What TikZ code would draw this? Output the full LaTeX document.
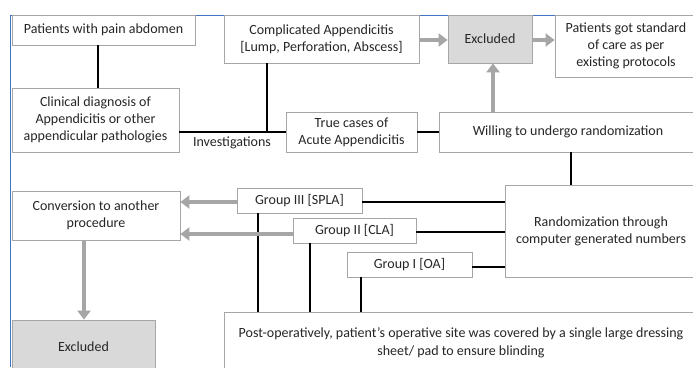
\documentclass[tikz,border=0pt]{standalone}
\usepackage{fontspec}
\setmainfont{Carlito}
\usetikzlibrary{arrows.meta}
\definecolor{boxline}{HTML}{A6A6A6}
\definecolor{arrgray}{HTML}{A6A6A6}
\definecolor{exfill}{HTML}{D9D9D9}
\definecolor{frameblue}{HTML}{4472C4}
\definecolor{txt}{HTML}{262626}
\begin{document}
\begin{tikzpicture}[x=1pt,y=-1pt,
  box/.style={draw=boxline,line width=0.8pt,fill=white,inner sep=1pt,align=center,text=txt,font=\fontsize{14}{17}\selectfont},
  conn/.style={line width=2.5pt,black},
  garr/.style={line width=4pt,arrgray,-{Triangle[length=9pt,width=13pt]}},
  lbl/.style={text=txt,font=\fontsize{14}{17.5}\selectfont}]
\useasboundingbox (0,0) rectangle (693,367);
\clip (0,0) rectangle (693,367);
\fill[white] (0,0) rectangle (693,367);
\draw[frameblue,line width=1pt] (10,367) -- (10,15) -- (693,15);
% boxes
\node[box,minimum width=183pt,minimum height=30pt] (pain) at (103.5,30) {Patients with pain abdomen};
\node[box,minimum width=167pt,minimum height=64pt] (clin) at (95.5,120) {Clinical diagnosis of\\Appendicitis or other\\appendicular pathologies};
\node[box,minimum width=195pt,minimum height=48pt] (comp) at (321.5,39) {Complicated Appendicitis\\{[}Lump, Perforation, Abscess{]}};
\node[box,fill=exfill,minimum width=84pt,minimum height=48pt] (ex1) at (490,39) {Excluded};
\node[box,minimum width=142pt,minimum height=62pt] (std) at (626,46) {Patients got standard\\of care as per\\existing protocols};
\node[box,minimum width=131pt,minimum height=40pt] (true) at (351.5,132) {True cases of\\Acute Appendicitis};
\node[box,minimum width=258pt,minimum height=40pt] (will) at (568,132) {Willing to undergo randomization};
\node[box,minimum width=192pt,minimum height=92pt] (rand) at (601,231) {Randomization through\\computer generated numbers};
\node[box,minimum width=125pt,minimum height=25pt] (g3) at (299.5,200.5) {Group III [SPLA]};
\node[box,minimum width=123pt,minimum height=25pt] (g2) at (354.5,230.5) {Group II [CLA]};
\node[box,minimum width=125pt,minimum height=25pt] (g1) at (409.5,264.5) {Group I [OA]};
\node[box,minimum width=168pt,minimum height=49pt] (conv) at (96,215.5) {Conversion to another\\procedure};
\node[box,fill=exfill,minimum width=143pt,minimum height=60pt] (ex2) at (83.5,350) {};
\node[lbl] (ex2t) at (83.5,347) {Excluded};
\node[box,minimum width=474pt,minimum height=80pt] (post) at (461,352) {};
\node[lbl,align=center] (postt) at (461,343) {Post-operatively, patient’s operative site was covered by a single large dressing\\sheet/ pad to ensure blinding};
% black connectors
\draw[conn] (pain.south -| 98,0) -- (clin.north -| 98,0);
\draw[conn] (true.west) -- (true.west -| clin.east);
\coordinate (j1) at (267,132);
\draw[conn] (comp.south -| j1) -- (j1);
\node[lbl,anchor=center] (inv) at (232,143) {Investigations};
\draw[conn] (true.east) -- (true.east -| will.west);
\coordinate (j2) at (571,0);
\draw[conn] (will.south -| j2) -- (rand.north -| j2);
\draw[conn] (g3.east |- 0,202) -- (rand.west |- 0,202);
\draw[conn] (g2.east |- 0,232) -- (rand.west |- 0,232);
\draw[conn] (g1.east |- 0,267) -- (rand.west |- 0,267);
\coordinate (j3) at (258,0);
\coordinate (j4) at (310,0);
\coordinate (j5) at (361,0);
\draw[conn] (g3.south -| j3) -- (post.north -| j3);
\draw[conn] (g2.south -| j4) -- (post.north -| j4);
\draw[conn] (g1.south -| j5) -- (post.north -| j5);
% gray arrows
\draw[garr] (comp.east |- 0,40) -- (ex1.west |- 0,40);
\draw[garr] (ex1.east |- 0,40) -- (std.west |- 0,40);
\coordinate (j6) at (493,0);
\draw[garr] (will.north -| j6) -- (ex1.south -| j6);
\draw[garr] (g3.west |- 0,202) -- (conv.east |- 0,202);
\draw[garr] (g2.west |- 0,234) -- (conv.east |- 0,234);
\coordinate (j7) at (84,0);
\draw[garr] (conv.south -| j7) -- (ex2.north -| j7);
\end{tikzpicture}
\end{document}
